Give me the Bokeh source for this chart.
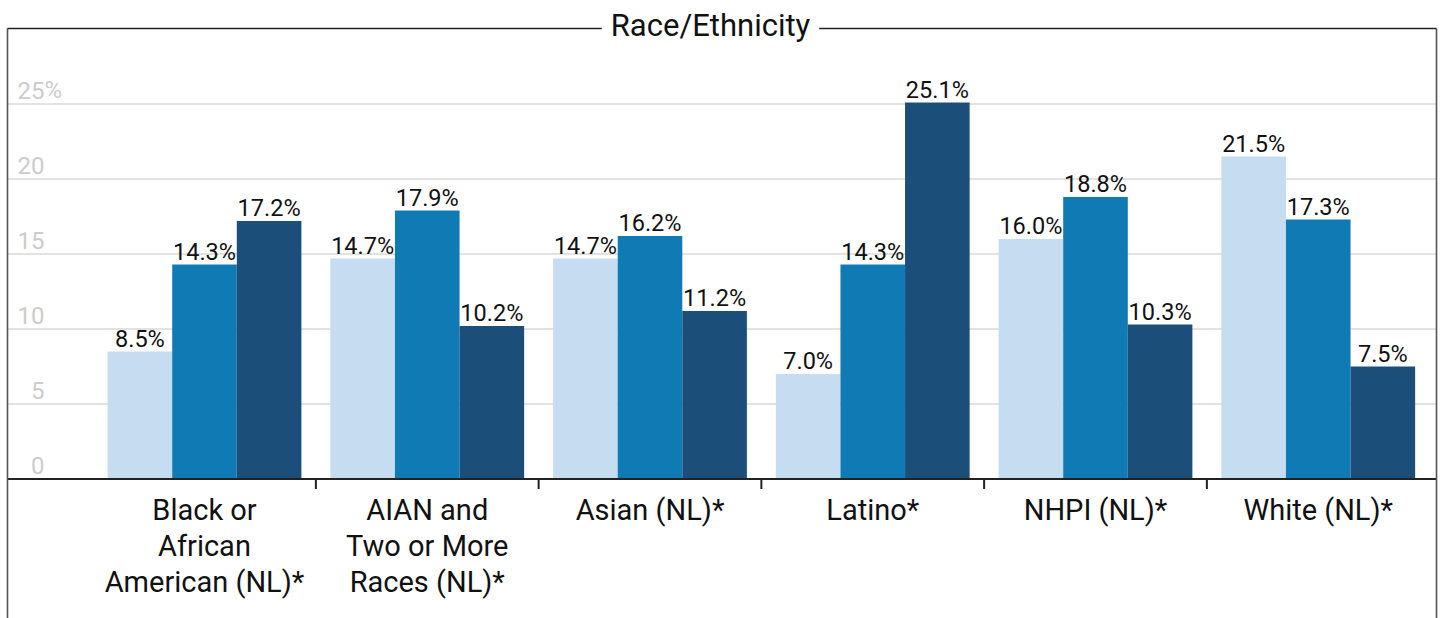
import numpy as np
from bokeh.plotting import figure
from bokeh.models import Range1d, ColumnDataSource
from bokeh.core.properties import value
from bokeh.embed import file_html
from bokeh.resources import INLINE

# ---- data ----
categories = [
    "Black or\nAfrican\nAmerican (NL)*",
    "AIAN and\nTwo or More\nRaces (NL)*",
    "Asian (NL)*",
    "Latino*",
    "NHPI (NL)*",
    "White (NL)*",
]
series_1 = [8.5, 14.7, 14.7, 7.0, 16.0, 21.5]
series_2 = [14.3, 17.9, 16.2, 14.3, 18.8, 17.3]
series_3 = [17.2, 10.2, 11.2, 25.1, 10.3, 7.5]
y_ticks = [0, 5, 10, 15, 20, 25]
y_tick_labels = ["0", "5", "10", "15", "20", "25"]
title_text = "Race/Ethnicity"

colors = ["#c6dcf1", "#107ab5", "#1b4f7a"]
FONT = value("Roboto")

n = len(categories)
idx = np.arange(n)
BAR_W = 0.29
offsets = [-BAR_W, 0.0, BAR_W]

# layout (pixels)
W, H = 1440, 618
PX_X = 222.75          # px per category
PX_Y = 15.0            # px per percent
X0_PX = 204.0          # pixel of first category centre
Y0_PX = 478.5          # pixel of zero line
def dx(px): return (px - X0_PX) / PX_X
def dy(py): return (Y0_PX - py) / PX_Y

left_x, right_x = dx(7), dx(1436)
top_y = dy(28)

p = figure(
    width=W, height=H,
    x_range=Range1d(dx(0), dx(W)),
    y_range=Range1d(dy(H), dy(0)),
    output_backend="svg", toolbar_location=None,
    x_axis_location=None, y_axis_location=None,
    min_border_left=0, min_border_right=0, min_border_top=0, min_border_bottom=0,
    outline_line_color=None, background_fill_color="white", border_fill_color="white",
)
for g in p.grid:
    g.visible = False

# horizontal gridlines
gt = y_ticks[1:]
p.segment(x0=[left_x] * len(gt), x1=[right_x] * len(gt), y0=gt, y1=gt,
          line_color="#d9d9d9", line_width=1.3)

# bars and value labels
for vals, off, col in zip([series_1, series_2, series_3], offsets, colors):
    src = ColumnDataSource(dict(
        x=idx + off, top=vals, lab=[f"{v:.1f}%" for v in vals]))
    p.vbar(x="x", top="top", bottom=0, width=BAR_W, source=src,
           fill_color=col, line_color=None)
    p.text(x="x", y="top", text="lab", source=src, text_align="center",
           text_baseline="alphabetic", y_offset=-13, text_font=FONT,
           text_font_size="23.5px", text_color="#111111")

# x axis line and ticks between groups
p.segment(x0=[left_x], x1=[right_x], y0=[0], y1=[0], line_color="#222222", line_width=2)
bounds = idx[:-1] + 0.5
p.segment(x0=bounds, y0=np.zeros(len(bounds)), x1=bounds,
          y1=np.full(len(bounds), -10 / PX_Y), line_color="#222222", line_width=2)

# category labels
p.text(x=idx, y=np.zeros(n), text=categories, text_align="center", text_baseline="top",
       y_offset=14, text_font=FONT, text_font_size="29px", text_color="#111111",
       text_line_height=1.06)

# y tick labels (inside the plot, above gridlines)
p.text(x=[left_x] * len(y_ticks), y=y_ticks, text=y_tick_labels, text_align="right",
       text_baseline="alphabetic", x_offset=37, y_offset=-14, text_font=FONT,
       text_font_size="24px", text_color="#cccccc")
p.text(x=[left_x], y=[y_ticks[-1]], text=["%"], text_align="left",
       text_baseline="alphabetic", x_offset=37, y_offset=-14, text_font=FONT,
       text_font_size="24px", text_color="#cccccc")

# frame lines (left, right, top)
p.segment(x0=[left_x, right_x], x1=[left_x, right_x], y0=[top_y, top_y], y1=[dy(H), dy(H)],
          line_color="#555555", line_width=1.6)
p.segment(x0=[left_x], x1=[right_x], y0=[top_y], y1=[top_y],
          line_color="#222222", line_width=1.6)

# title breaking the top line
p.text(x=[dx(710)], y=[top_y], text=[title_text], text_align="center",
       text_baseline="middle", y_offset=-3, text_font=FONT,
       text_font_size="31px", text_color="#111111",
       background_fill_color="white", padding=9)

open("out.html", "w").write(file_html(p, INLINE))
